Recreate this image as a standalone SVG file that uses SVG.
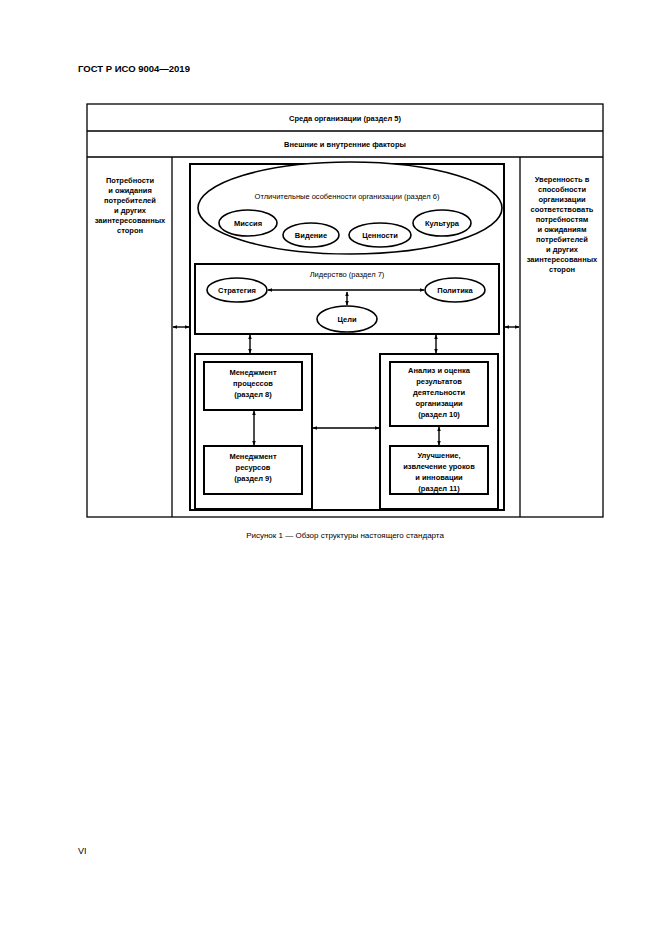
<svg xmlns="http://www.w3.org/2000/svg" width="661" height="935" viewBox="0 0 661 935">
<defs>
<style>
text{font-family:"Liberation Sans",Arial,sans-serif;font-size:7.5px;fill:#000;text-anchor:middle}
.b{font-weight:bold}
.box{fill:none;stroke:#000;stroke-width:1.3}
.thick{fill:none;stroke:#000;stroke-width:2}
.ell{fill:#fff;stroke:#000;stroke-width:1.6}
.ln{stroke:#000;stroke-width:1.4;fill:none;marker-start:url(#a);marker-end:url(#a)}
</style>
<marker id="a" viewBox="0 0 8 6" refX="7" refY="3" markerWidth="5" markerHeight="4" orient="auto-start-reverse" markerUnits="userSpaceOnUse"><path d="M0,0 L8,3 L0,6z" fill="#000"/></marker>
</defs>
<rect width="661" height="935" fill="#fff"/>
<text x="78" y="72" class="b" style="text-anchor:start;font-size:9.5px">ГОСТ Р ИСО 9004—2019</text>
<text x="78" y="854" style="text-anchor:start;font-size:9px">VI</text>
<g id="outer">
<rect x="87" y="104" width="516" height="413" class="box"/>
<line x1="87" y1="131" x2="603" y2="131" stroke="#000" stroke-width="1.3"/>
<line x1="87" y1="157" x2="603" y2="157" stroke="#000" stroke-width="1.3"/>
<line x1="172" y1="157" x2="172" y2="517" stroke="#000" stroke-width="1.3"/>
<line x1="520" y1="157" x2="520" y2="517" stroke="#000" stroke-width="1.3"/>
<text x="345" y="121" class="b">Среда организации (раздел 5)</text>
<text x="345" y="147" class="b">Внешние и внутренние факторы</text>
</g>
<g id="left-col"><text class="b">
<tspan x="130" y="183">Потребности</tspan><tspan x="130" y="193">и ожидания</tspan><tspan x="130" y="203">потребителей</tspan><tspan x="130" y="213">и других</tspan><tspan x="130" y="223">заинтересованных</tspan><tspan x="130" y="233">сторон</tspan></text></g>
<g id="right-col"><text class="b">
<tspan x="562" y="182">Уверенность в</tspan><tspan x="562" y="192">способности</tspan><tspan x="562" y="202">организации</tspan><tspan x="562" y="212">соответствовать</tspan><tspan x="562" y="222">потребностям</tspan><tspan x="562" y="232">и ожиданиям</tspan><tspan x="562" y="242">потребителей</tspan><tspan x="562" y="252">и других</tspan><tspan x="562" y="262">заинтересованных</tspan><tspan x="562" y="272">сторон</tspan></text></g>
<g id="inner"><rect x="190" y="164" width="314" height="346" class="thick"/></g>
<g id="features">
<ellipse cx="350" cy="208" rx="152" ry="46" class="ell"/>
<text x="347" y="199">Отличительные особенности организации (раздел 6)</text>
</g>
<g id="mission"><ellipse cx="248" cy="223" rx="29" ry="13" class="ell"/><text x="248" y="226" class="b">Миссия</text></g>
<g id="vision"><ellipse cx="311" cy="235" rx="28" ry="12" class="ell"/><text x="311" y="238" class="b">Видение</text></g>
<g id="values"><ellipse cx="380" cy="235" rx="31" ry="12" class="ell"/><text x="380" y="238" class="b">Ценности</text></g>
<g id="culture"><ellipse cx="442" cy="223" rx="29" ry="13" class="ell"/><text x="442" y="226" class="b">Культура</text></g>
<g id="leadership"><rect x="195" y="264" width="304" height="70" class="thick"/><text x="347" y="277">Лидерство (раздел 7)</text></g>
<g id="strategy"><ellipse cx="237" cy="290" rx="30" ry="12" class="ell"/><text x="237" y="293" class="b">Стратегия</text></g>
<g id="policy"><ellipse cx="455" cy="290" rx="30" ry="12" class="ell"/><text x="455" y="293" class="b">Политика</text></g>
<g id="goals"><ellipse cx="347" cy="319" rx="30" ry="13" class="ell"/><text x="347" y="322" class="b">Цели</text></g>
<g id="left-group"><rect x="195" y="354" width="117" height="155" class="thick"/></g>
<g id="proc"><rect x="204" y="362" width="98" height="48" class="thick"/><text class="b"><tspan x="253" y="375">Менеджмент</tspan><tspan x="253" y="386">процессов</tspan><tspan x="253" y="397">(раздел 8)</tspan></text></g>
<g id="res"><rect x="204" y="446" width="98" height="48" class="thick"/><text class="b"><tspan x="253" y="459">Менеджмент</tspan><tspan x="253" y="470">ресурсов</tspan><tspan x="253" y="481">(раздел 9)</tspan></text></g>
<g id="right-group"><rect x="380" y="354" width="118" height="155" class="thick"/></g>
<g id="analysis"><rect x="390" y="362" width="98" height="64" class="thick"/><text class="b"><tspan x="439" y="373">Анализ и оценка</tspan><tspan x="439" y="384">результатов</tspan><tspan x="439" y="395">деятельности</tspan><tspan x="439" y="406">организации</tspan><tspan x="439" y="417">(раздел 10)</tspan></text></g>
<g id="improve"><rect x="390" y="446" width="98" height="48" class="thick"/><text class="b"><tspan x="439" y="458">Улучшение,</tspan><tspan x="439" y="469">извлечение уроков</tspan><tspan x="439" y="480">и инновации</tspan><tspan x="439" y="491">(раздел 11)</tspan></text></g>
<g id="connectors">
<line x1="268" y1="290" x2="424" y2="290" class="ln"/>
<line x1="347" y1="292" x2="347" y2="305" class="ln"/>
<line x1="250" y1="335" x2="250" y2="353" class="ln"/>
<line x1="436" y1="335" x2="436" y2="353" class="ln"/>
<line x1="254" y1="411" x2="254" y2="445" class="ln"/>
<line x1="439" y1="427" x2="439" y2="445" class="ln"/>
<line x1="313" y1="428" x2="379" y2="428" class="ln"/>
<line x1="173" y1="327" x2="189" y2="327" class="ln"/>
<line x1="505" y1="327" x2="519" y2="327" class="ln"/>
</g>
<text x="345" y="538" style="font-size:8px">Рисунок 1 — Обзор структуры настоящего стандарта</text>
</svg>
